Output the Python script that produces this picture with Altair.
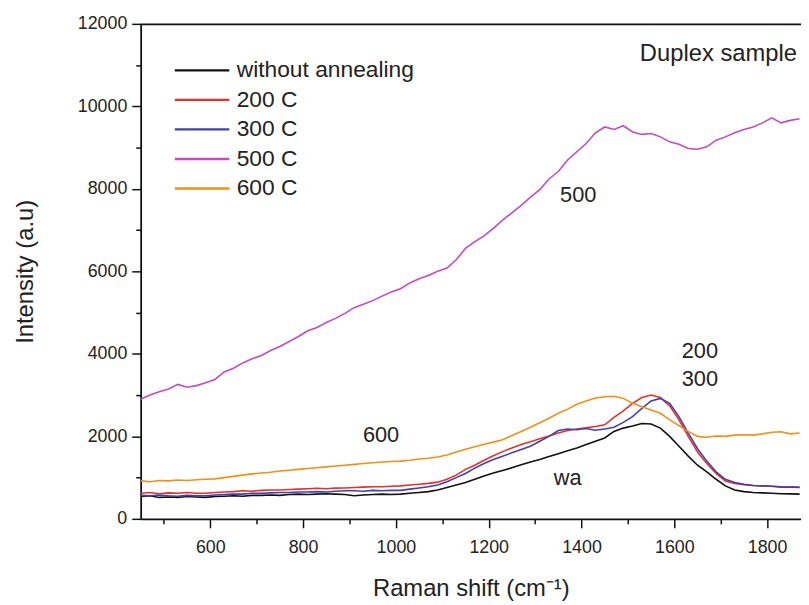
import altair as alt
import pandas as pd

# Raman shift grid (cm^-1)
shift = list(range(450, 1871, 20))

wa = [540, 560, 520, 530, 520, 540, 530, 520, 540, 550, 560, 550, 570, 570, 580, 570, 590, 600, 590, 600,
      610, 600, 590, 560, 580, 590, 600, 590, 600, 620, 640, 660, 700, 760, 820, 880, 960, 1040, 1110, 1170,
      1240, 1310, 1380, 1440, 1510, 1580, 1650, 1720, 1800, 1880, 1960, 2120, 2200, 2250, 2310, 2300, 2200, 2000, 1760, 1520,
      1300, 1140, 960, 800, 700, 660, 640, 630, 620, 610, 605, 600]
c200 = [620, 640, 610, 630, 620, 640, 620, 620, 640, 650, 660, 680, 670, 690, 700, 700, 710, 720, 730, 740,
        730, 745, 750, 760, 770, 780, 780, 790, 800, 820, 840, 860, 890, 960, 1060, 1200, 1300, 1420, 1530, 1630,
        1720, 1800, 1870, 1940, 2010, 2080, 2140, 2180, 2210, 2240, 2280, 2460, 2620, 2800, 2940, 3000, 2940, 2740, 2400, 2000,
        1620, 1340, 1100, 920, 860, 830, 810, 800, 790, 780, 775, 770]
c300 = [570, 560, 580, 560, 550, 570, 560, 560, 580, 590, 600, 600, 620, 620, 630, 640, 640, 650, 650, 660,
        650, 670, 680, 680, 670, 690, 680, 690, 690, 720, 750, 780, 820, 900, 1000, 1100, 1230, 1340, 1440, 1520,
        1600, 1680, 1760, 1880, 2000, 2140, 2180, 2160, 2190, 2150, 2180, 2220, 2340, 2480, 2680, 2860, 2920, 2800, 2480, 2080,
        1700, 1400, 1140, 960, 880, 840, 810, 800, 790, 770, 765, 760]
c500 = [2900, 3000, 3080, 3150, 3260, 3190, 3230, 3300, 3380, 3560, 3650, 3780, 3880, 3960, 4080, 4180, 4300, 4420, 4560, 4640,
        4760, 4860, 4980, 5120, 5200, 5290, 5400, 5500, 5580, 5720, 5820, 5900, 6000, 6080, 6280, 6560, 6720, 6860, 7040, 7240,
        7420, 7600, 7800, 7980, 8240, 8420, 8700, 8900, 9100, 9360, 9500, 9440, 9530, 9380, 9320, 9340, 9260, 9140, 9080, 8980,
        8960, 9020, 9180, 9260, 9360, 9440, 9500, 9600, 9720, 9600, 9660, 9700]
c600 = [920, 900, 930, 920, 940, 930, 950, 960, 970, 1000, 1030, 1060, 1090, 1110, 1130, 1160, 1180, 1200, 1220, 1240,
        1260, 1280, 1300, 1320, 1340, 1360, 1380, 1390, 1400, 1420, 1450, 1470, 1500, 1550, 1620, 1690, 1750, 1810, 1860, 1920,
        2020, 2120, 2220, 2330, 2440, 2560, 2660, 2780, 2860, 2930, 2960, 2970, 2920, 2800, 2720, 2640, 2560, 2400, 2260, 2120,
        2000, 1980, 2010, 2000, 2030, 2040, 2030, 2060, 2100, 2110, 2060, 2080]

series_names = ["without annealing", "200 C", "300 C", "500 C", "600 C"]
series_colors = ["#111111", "#e2322b", "#4040b0", "#c04cc0", "#f0901a"]
series_values = [wa, c200, c300, c500, c600]

ann_text = ["Duplex sample", "500", "200", "300", "600", "wa"]
ann_x = [1695, 1393, 1655, 1655, 968, 1370]
ann_y = [11270, 7840, 4073, 3400, 2033, 1000]
ann_size = [24, 22, 22, 22, 22, 22]

x_major = [600, 800, 1000, 1200, 1400, 1600, 1800]
x_minor = [500, 700, 900, 1100, 1300, 1500, 1700]
y_major = [0, 2000, 4000, 6000, 8000, 10000, 12000]
y_minor = [1000, 3000, 5000, 7000, 9000, 11000]

rows = []
for name, vals in zip(series_names, series_values):
    for s, v in zip(shift, vals):
        rows.append({"shift": s, "intensity": v, "series": name})
df = pd.DataFrame(rows)
ann = pd.DataFrame({"x": ann_x, "y": ann_y, "t": ann_text, "fs": ann_size})

FONT = "Liberation Sans"
XDOM = [450, 1873]
YDOM = [0, 12000]

xs = alt.Scale(domain=XDOM, nice=False, zero=False)
ys = alt.Scale(domain=YDOM, nice=False)

lines = alt.Chart(df).mark_line(strokeWidth=1.6, clip=True).encode(
    x=alt.X("shift:Q", scale=xs,
            axis=alt.Axis(orient="bottom", values=x_major, title="Raman shift (cm⁻¹)", format="d",
                          tickSize=9, tickWidth=1.5, domainWidth=1.8, labelPadding=11,
                          titlePadding=20, grid=False)),
    y=alt.Y("intensity:Q", scale=ys,
            axis=alt.Axis(orient="left", values=y_major, title="Intensity (a.u)", format="d",
                          tickSize=9, tickWidth=1.5, domainWidth=1.8, labelPadding=5,
                          titlePadding=40, grid=False)),
    color=alt.Color("series:N", sort=series_names,
                    scale=alt.Scale(domain=series_names, range=series_colors),
                    legend=alt.Legend(orient="none", legendX=33, legendY=36, title=None,
                                      symbolType="stroke", symbolSize=3025, symbolStrokeWidth=2.5,
                                      labelFontSize=23, labelFont=FONT, labelColor="#222222",
                                      labelLimit=400, clipHeight=22, rowPadding=6.8, labelOffset=6,
                                      padding=0)),
    detail="series:N",
)

minor = alt.Chart(df).mark_point(opacity=0).encode(
    x=alt.X("shift:Q", scale=xs,
            axis=alt.Axis(orient="bottom", values=x_minor, labels=False, title=None,
                          tickSize=5, tickWidth=1.5, domain=False, grid=False)),
    y=alt.Y("intensity:Q", scale=ys,
            axis=alt.Axis(orient="left", values=y_minor, labels=False, title=None,
                          tickSize=5, tickWidth=1.5, domain=False, grid=False)),
)

frame = alt.Chart(df).mark_point(opacity=0).encode(
    x=alt.X("shift:Q", scale=xs,
            axis=alt.Axis(orient="top", labels=False, ticks=False, title=None,
                          domainWidth=1.8, grid=False)),
    y=alt.Y("intensity:Q", scale=ys, axis=None),
)

text = alt.Chart(ann).mark_text(font=FONT, color="#222222").encode(
    x=alt.X("x:Q", scale=xs, axis=None),
    y=alt.Y("y:Q", scale=ys, axis=None),
    text="t:N",
    size=alt.Size("fs:Q", scale=None, legend=None),
)

chart = alt.layer(lines, minor, frame, text).resolve_axis(x="independent", y="independent").properties(
    width=667, height=500,
    autosize=alt.AutoSizeParams(type="none"),
    padding={"left": 134, "top": 13, "right": 0, "bottom": 84},
).configure_view(stroke=None).configure_axis(
    labelFont=FONT, titleFont=FONT, labelFontSize=18, titleFontSize=24,
    labelColor="#222222", titleColor="#222222", domainColor="#111111", tickColor="#111111",
    titleFontWeight="normal",
)

chart.save("out.html", embed_options={"renderer": "svg", "actions": False})
